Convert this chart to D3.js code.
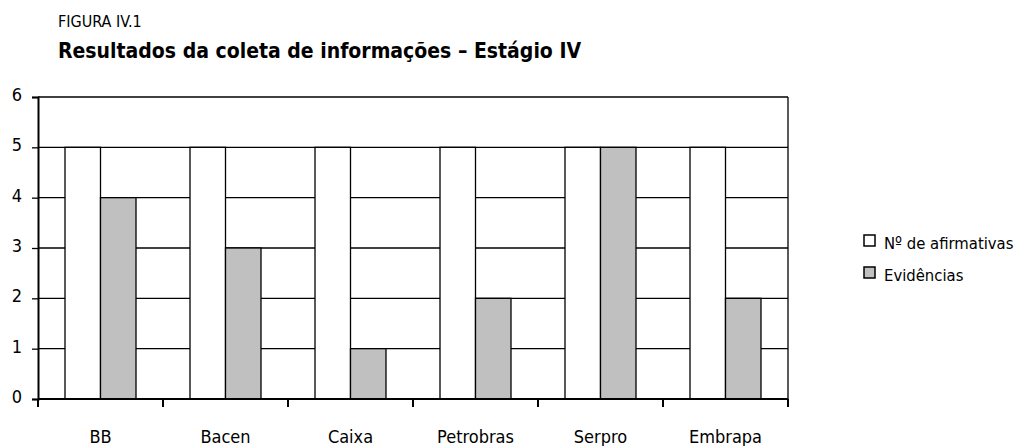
<!DOCTYPE html>
<html>
<head>
<meta charset="utf-8">
<script src="https://cdn.jsdelivr.net/npm/d3@7"></script>
<style>
  body { margin: 0; background: #fff; }
  svg text { font-family: "Liberation Sans Narrow", "DejaVu Sans Condensed", sans-serif; }
</style>
</head>
<body>
<svg width="1017" height="446"></svg>
<script>
var categories = ["BB", "Bacen", "Caixa", "Petrobras", "Serpro", "Embrapa"];
var afirmativas = [5, 5, 5, 5, 5, 5];
var evidencias = [4, 3, 1, 2, 5, 2];
var seriesNames = ["Nº de afirmativas", "Evidências"];
var yTicks = [0, 1, 2, 3, 4, 5, 6];

var svg = d3.select("svg");
var plotL = 38, plotR = 788, plotT = 97, plotB = 399;

var x = d3.scaleBand().domain(categories).range([plotL, plotR]).paddingInner(0).paddingOuter(0);
var y = d3.scaleLinear().domain([0, 6]).range([plotB, plotT]);
var barW = 35.5;

svg.append("text").attr("x", 58).attr("y", 27).attr("font-size", 16).text("FIGURA IV.1");
svg.append("text").attr("x", 58).attr("y", 58).attr("font-size", 21).attr("font-weight", "bold")
  .text("Resultados da coleta de informações – Estágio IV");

// grid
svg.append("g").selectAll("line").data(yTicks.slice(1)).enter().append("line")
  .attr("x1", plotL).attr("x2", plotR)
  .attr("y1", d => y(d)).attr("y2", d => y(d))
  .attr("stroke", "#000").attr("stroke-width", 1.3);

// right border
svg.append("line").attr("x1", plotR).attr("x2", plotR).attr("y1", plotT).attr("y2", plotB)
  .attr("stroke", "#000").attr("stroke-width", 1.3);

var data = categories.map((c, i) => ({c: c, a: afirmativas[i], e: evidencias[i]}));
var cx = d => x(d.c) + x.bandwidth() / 2;

svg.append("g").selectAll("rect").data(data).enter().append("rect")
  .attr("x", d => cx(d) - barW).attr("width", barW)
  .attr("y", d => y(d.a)).attr("height", d => y(0) - y(d.a))
  .attr("fill", "#fff").attr("stroke", "#000").attr("stroke-width", 1.3);

svg.append("g").selectAll("rect").data(data).enter().append("rect")
  .attr("x", d => cx(d)).attr("width", barW)
  .attr("y", d => y(d.e)).attr("height", d => y(0) - y(d.e))
  .attr("fill", "#c0c0c0").attr("stroke", "#000").attr("stroke-width", 1.3);

// y axis
var yAxis = svg.append("g").attr("transform", "translate(" + plotL + ",0)")
  .call(d3.axisLeft(y).tickValues(yTicks).tickFormat(d3.format("d")).tickSize(6).tickPadding(10));
yAxis.selectAll("text").attr("font-size", 18).attr("fill", "#000").attr("dy", "0.2em");
yAxis.select(".domain").attr("stroke-width", 2);
yAxis.selectAll(".tick line").attr("stroke-width", 1.3);

// x axis
var xAxis = svg.append("g").attr("transform", "translate(0," + plotB + ")");
xAxis.append("line").attr("x1", plotL).attr("x2", plotR).attr("stroke", "#000").attr("stroke-width", 2);
xAxis.selectAll("line.tk").data(categories.concat(["_end"])).enter().append("line")
  .attr("class", "tk")
  .attr("x1", (d, i) => i < categories.length ? x(d) : plotR)
  .attr("x2", (d, i) => i < categories.length ? x(d) : plotR)
  .attr("y1", 0).attr("y2", 8).attr("stroke", "#000").attr("stroke-width", 2);
xAxis.selectAll("text").data(categories).enter().append("text")
  .attr("x", d => x(d) + x.bandwidth() / 2).attr("y", 44)
  .attr("text-anchor", "middle").attr("font-size", 18).text(d => d);

// legend
var legend = svg.append("g").selectAll("g").data(seriesNames).enter().append("g")
  .attr("transform", (d, i) => "translate(864," + (235 + i * 32) + ")");
legend.append("rect").attr("width", 11).attr("height", 11)
  .attr("fill", (d, i) => i ? "#c0c0c0" : "#fff").attr("stroke", "#000").attr("stroke-width", 1.5);
legend.append("text").attr("x", 20).attr("y", 14).attr("font-size", 16.5).text(d => d);
</script>
</body>
</html>
